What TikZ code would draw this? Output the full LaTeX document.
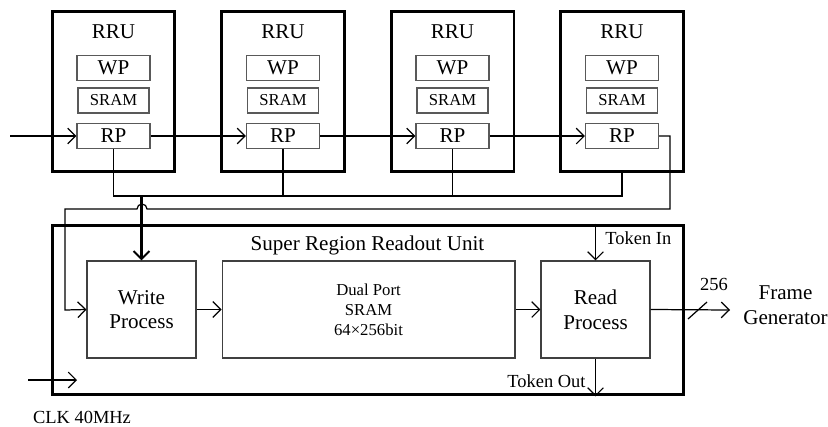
\documentclass[tikz,border=0pt]{standalone}
\usepackage{fontspec}
\setmainfont{Liberation Serif}
\usetikzlibrary{arrows.meta,positioning}

\begin{document}
\begin{tikzpicture}[x=0.02cm, y=-0.02cm, line width=0.7pt,
                      >={Straight Barb[length=4.5pt,width=9pt]},
                      unit/.style={draw, line width=1.7pt, inner sep=0pt},
                      sub/.style={draw=black!65, line width=0.6pt, minimum width=1.46cm, minimum height=0.49cm, inner sep=0pt},
                      proc/.style={draw=black!75, line width=0.6pt, minimum width=2.18cm, minimum height=1.94cm, inner sep=0pt, align=center},
                      big/.style={font=\fontsize{12}{14}\selectfont},
                      small/.style={font=\fontsize{9.5}{11.3}\selectfont},
                      mid/.style={font=\fontsize{10.5}{12.5}\selectfont}]
                      \useasboundingbox (0,0) rectangle (828,426);

                      % readout units
                      \node[unit, minimum width=2.46cm, minimum height=3.22cm] (RRU1) at (113.5,91.5) {};
                      \node[unit, minimum width=2.46cm, minimum height=3.22cm] (RRU2) at (283,91.5) {};
                      \node[unit, minimum width=2.46cm, minimum height=3.22cm] (RRU3) at (452.5,91.5) {};
                      \node[unit, minimum width=2.46cm, minimum height=3.22cm] (RRU4) at (622,91.5) {};

                      \node[big] (T1) at (113.5,32) {RRU};
                      \node[big] (T2) at (283,32) {RRU};
                      \node[big] (T3) at (452.5,32) {RRU};
                      \node[big] (T4) at (622,32) {RRU};

                      \node[sub, big] (WP1) at (113.5,68) {WP};
                      \node[sub, big] (WP2) at (283,68) {WP};
                      \node[sub, big] (WP3) at (452.5,68) {WP};
                      \node[sub, big] (WP4) at (622,68) {WP};

                      \node[sub, small, minimum width=1.42cm, minimum height=0.5cm] (SR1) at (113.5,100.5) {SRAM};
                      \node[sub, small, minimum width=1.42cm, minimum height=0.5cm] (SR2) at (283,100.5) {SRAM};
                      \node[sub, small, minimum width=1.42cm, minimum height=0.5cm] (SR3) at (452.5,100.5) {SRAM};
                      \node[sub, small, minimum width=1.42cm, minimum height=0.5cm] (SR4) at (622,100.5) {SRAM};

                      \node[sub, big, minimum height=0.5cm] (RP1) at (113.5,136) {RP};
                      \node[sub, big, minimum height=0.5cm] (RP2) at (283,136) {RP};
                      \node[sub, big, minimum height=0.5cm] (RP3) at (452.5,136) {RP};
                      \node[sub, big, minimum height=0.5cm] (RP4) at (622,136) {RP};

                      % super region readout unit
                      \node[unit, minimum width=12.64cm, minimum height=3.4cm] (SRRU) at (368,310) {};
                      \node[big] (title) at (367.5,245) {Super Region Readout Unit};
                      \node[proc, big] (write) at (141.5,309.5) {Write\\Process};
                      \node[proc, small, minimum width=5.86cm] (dpram) at (368.5,309.5) {Dual Port\\SRAM\\64×256bit};
                      \node[proc, big] (read) at (595.5,309.5) {Read\\Process};
                      \node[big, align=center] (frame) at (785.5,305) {Frame\\Generator};
                      \node[mid] (width) at (714,284) {256};
                      \node[mid] (clk) at (82,417) {CLK 40MHz};

                      \coordinate (in) at (10,136);
                      \coordinate (bus) at (141.5,196);
                      \coordinate (loop) at (670,209);
                      \coordinate (clkin) at (28,380);
                      \coordinate (clkend) at (77,380);
                      \coordinate (out) at (730,310);

                      % token chain
                      \draw[->] (in) -- (RP1);
                      \draw[->] (RP1) -- (RP2);
                      \draw[->] (RP2) -- (RP3);
                      \draw[->] (RP3) -- (RP4);
                      \draw[->] (RP4.east) -- (RP4.east -| loop) -- (loop) -- (147,209)
                            arc[start angle=0, end angle=180, radius=0.1cm] -- (65,209) -- (65,310) -- (write.west);

                      % data bus
                      \draw (RP1.south) |- (RRU4.south |- bus) -- (RRU4.south);
                      \draw (RP2.south) -- (RP2.south |- bus);
                      \draw (RP3.south) -- (RP3.south |- bus);
                      \draw[->, line width=1.2pt] (bus) -- (write.north);

                      \draw[->] (write) -- (dpram);
                      \draw[->] (dpram) -- (read);
                      \draw[->] (read.north |- SRRU.north) -- (read.north) node[pos=0.4, right=2pt, mid] {Token In};
                      \draw[->] (read.south) -- (read.south |- SRRU.south) node[pos=0.6, left=2pt, mid] {Token Out};
                      \draw[->] (read.east) -- (out);
                      \draw (688,319) -- (707,302);
                      \draw[->] (clkin) -- (clkend);
                  \end{tikzpicture}
\end{document}
